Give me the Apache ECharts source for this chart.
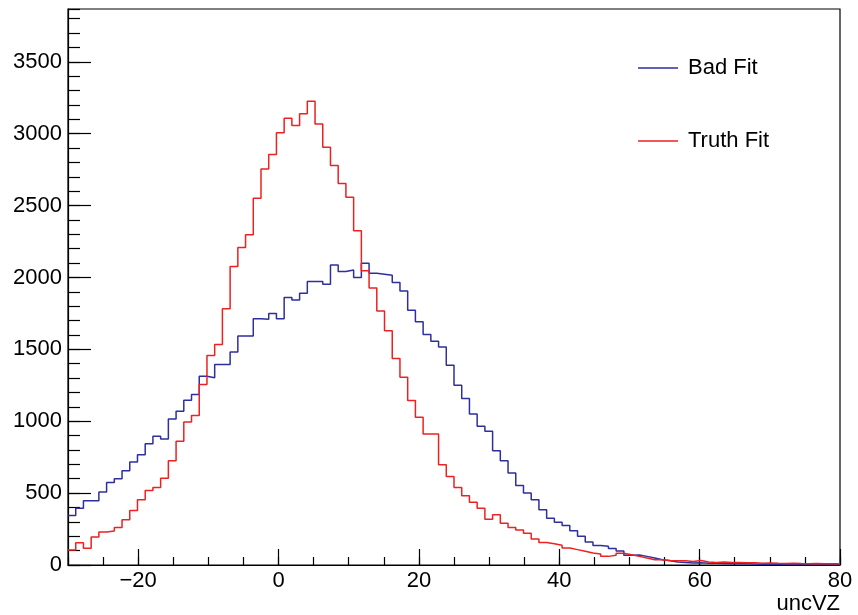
<!DOCTYPE html>
<html>
<head>
<meta charset="utf-8">
<script src="https://cdn.jsdelivr.net/npm/echarts@6/dist/echarts.min.js"></script>
<style>
html,body{margin:0;padding:0;background:#fff;}
#chart{width:858px;height:615px;}
</style>
</head>
<body>
<div id="chart"></div>
<script>
// Histogram binning: 100 bins from -30 to 80
const binLow = -30;
const binHigh = 80;
const binCount = 100;

// Bin contents (bin 0 .. bin 99)
const badFit = [
  344, 395, 446, 446, 507, 574, 600, 655, 716, 767,
  844, 895, 876, 1016, 1069, 1146, 1185, 1313, 1302, 1395,
  1395, 1481, 1592, 1592, 1713, 1709, 1750, 1713, 1860, 1843,
  1890, 1971, 1971, 1953, 2087, 2041, 2052, 1999, 2099, 2029,
  2022, 2015, 1964, 1906, 1771, 1692, 1604, 1557, 1516, 1390,
  1251, 1158, 1051, 965, 930, 795, 725, 639, 553, 500,
  453, 384, 325, 298, 275, 238, 200, 160, 135, 130,
  115, 98, 68, 70, 60, 49, 37, 30, 21, 18,
  14, 16, 13, 12, 10, 9, 8, 8, 7, 6,
  6, 5, 5, 4, 4, 3, 3, 3, 2, 2
];
const truthFit = [
  105, 155, 116, 195, 230, 236, 260, 314, 379, 453,
  519, 539, 603, 725, 860, 995, 1039, 1255, 1457, 1534,
  1783, 2076, 2208, 2297, 2550, 2755, 2855, 3006, 3108, 3057,
  3138, 3226, 3068, 2906, 2778, 2654, 2557, 2325, 2046, 1927,
  1767, 1630, 1437, 1306, 1144, 1027, 911, 911, 697, 616,
  539, 481, 437, 395, 318, 349, 291, 260, 244, 220,
  181, 157, 148, 137, 118, 107, 95, 83, 76, 60,
  67, 81, 72, 60, 48, 37, 37, 32, 30, 30,
  25, 32, 21, 18, 20, 18, 17, 15, 16, 13,
  14, 12, 11, 12, 10, 9, 10, 8, 9, 8
];

const seriesNames = ['Bad Fit', 'Truth Fit'];
const xTicks = [-20, 0, 20, 40, 60, 80];
const yTicks = [0, 500, 1000, 1500, 2000, 2500, 3000, 3500];
const yMax = 3867;
const xTitle = 'uncVZ';

function stepData(vals) {
  const w = (binHigh - binLow) / binCount;
  const out = [];
  for (let i = 0; i < vals.length; i++) out.push([binLow + i * w, vals[i]]);
  out.push([binHigh, vals[vals.length - 1]]);
  return out;
}

const FONT = 'Liberation Sans';
const chart = echarts.init(document.getElementById('chart'), null, {renderer: 'canvas'});
chart.setOption({
  animation: false,
  backgroundColor: '#ffffff',
  grid: {left: 68, right: 18, top: 9, bottom: 50, show: true, borderColor: '#000', borderWidth: 1.2, backgroundColor: 'transparent'},
  legend: {
    orient: 'vertical', left: 638, top: 55, itemGap: 47, padding: 0,
    itemWidth: 40, itemHeight: 1.6, icon: 'rect', selectedMode: false,
    data: seriesNames,
    textStyle: {fontFamily: FONT, fontSize: 22, color: '#000', lineHeight: 26, padding: [0, 0, 0, 5]}
  },
  xAxis: [{
    type: 'value', min: binLow, max: binHigh, interval: 5,
    axisLine: {show: true, onZero: false, lineStyle: {color: '#000', width: 1.2}},
    axisTick: {show: true, inside: true, length: 16, customValues: xTicks, lineStyle: {color: '#000', width: 1.2}},
    axisLabel: {show: true, customValues: xTicks, margin: 5, fontFamily: FONT, fontSize: 22, color: '#000',
      formatter: v => String(v).replace('-', '\u2212')},
    splitLine: {show: false}
  }, {
    type: 'value', min: binLow, max: binHigh, interval: 5, position: 'bottom',
    axisLine: {show: false, onZero: false}, axisLabel: {show: false}, splitLine: {show: false},
    axisTick: {show: true, inside: true, length: 8, lineStyle: {color: '#000', width: 1.2}}
  }],
  yAxis: [{
    type: 'value', min: 0, max: yMax, interval: 500,
    axisLine: {show: true, onZero: false, lineStyle: {color: '#000', width: 1.2}},
    axisTick: {show: true, inside: true, length: 23, customValues: yTicks, lineStyle: {color: '#000', width: 1.2}},
    axisLabel: {show: true, customValues: yTicks, margin: 6, fontFamily: FONT, fontSize: 22, color: '#000',
      formatter: v => String(v)},
    splitLine: {show: false}
  }, {
    type: 'value', min: 0, max: yMax, interval: 100, position: 'left',
    axisLine: {show: false, onZero: false}, axisLabel: {show: false}, splitLine: {show: false},
    axisTick: {show: true, inside: true, length: 12, lineStyle: {color: '#000', width: 1.2}}
  }],
  graphic: [{
    type: 'text', right: 18, top: 593,
    style: {text: xTitle, font: '22px "Liberation Sans"', fill: '#000'}
  }],
  series: [{
    name: seriesNames[0], type: 'line', step: 'end', symbol: 'none', showSymbol: false,
    xAxisIndex: 0, yAxisIndex: 0, color: '#2e2e9e',
    lineStyle: {color: '#2e2e9e', width: 1.5}, data: stepData(badFit), z: 3
  }, {
    name: seriesNames[1], type: 'line', step: 'end', symbol: 'none', showSymbol: false,
    xAxisIndex: 0, yAxisIndex: 0, color: '#ee2020',
    lineStyle: {color: '#ee2020', width: 1.5}, data: stepData(truthFit), z: 4
  }]
});
</script>
</body>
</html>
